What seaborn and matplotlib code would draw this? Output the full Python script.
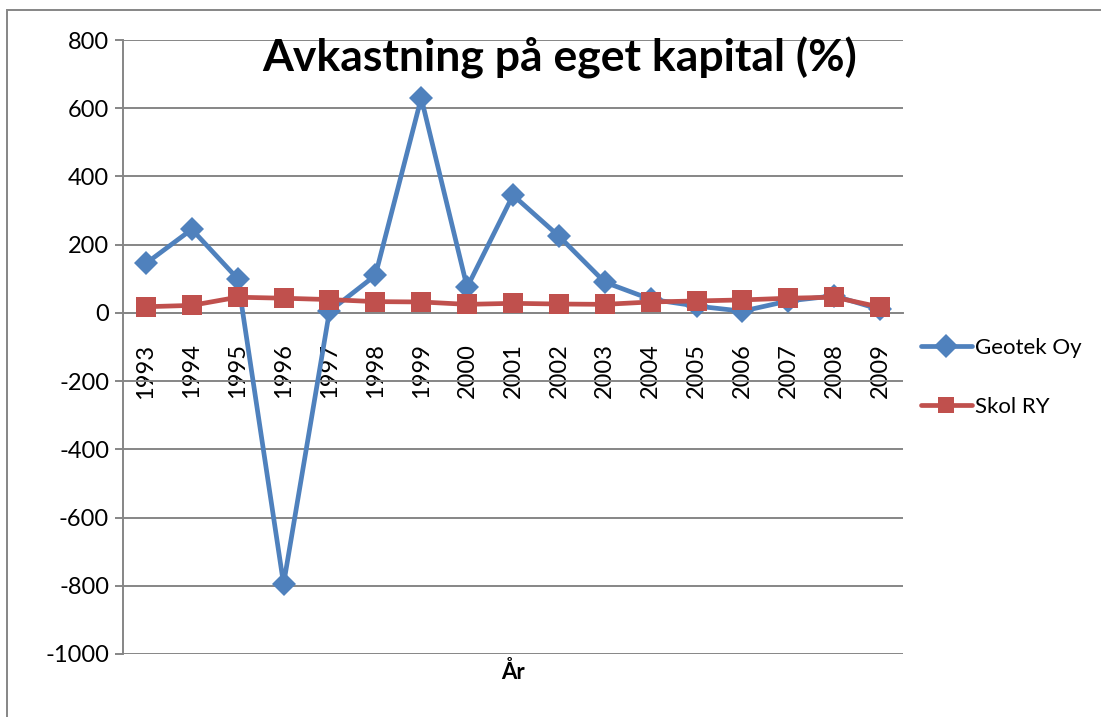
import pandas as pd
import matplotlib.pyplot as plt
import seaborn as sns
from matplotlib.patches import Rectangle

# Data
years = [str(y) for y in range(1993, 2010)]
geotek = [145, 245, 100, -795, 5, 110, 630, 75, 345, 225, 90, 40, 20, 5, 35, 50, 10]
skol = [18, 22, 46, 43, 39, 33, 32, 25, 28, 26, 25, 32, 35, 38, 43, 46, 17]
series_names = ["Geotek Oy", "Skol RY"]

df = pd.DataFrame({
    "År": years * 2,
    "value": geotek + skol,
    "series": [series_names[0]] * len(years) + [series_names[1]] * len(years),
})

sns.set_style("white")
plt.rcParams["font.family"] = ["Lato", "DejaVu Sans"]
plt.rcParams["axes.unicode_minus"] = False
plt.rcParams["text.color"] = "black"
plt.rcParams["axes.labelcolor"] = "black"

fig = plt.figure(figsize=(11.01, 7.17), dpi=100)
ax = fig.add_axes([0.1117, 0.0879, 0.7085, 0.8563])

grid_col = "#868686"

ax = sns.lineplot(data=df, x="År", y="value", hue="series", style="series",
                  markers=["D", "s"], dashes=False,
                  palette=["#4F81BD", "#C0504D"], linewidth=3.4,
                  markersize=12, markeredgewidth=0, ax=ax)
# squares a bit bigger than the diamonds
ax.lines[1].set_markersize(14)

ax.set_ylim(-1000, 800)
ax.set_xlim(-0.5, len(years) - 0.5)
ax.set_yticks(range(-1000, 801, 200))
ax.yaxis.grid(True, color=grid_col, linewidth=1.4)
ax.set_axisbelow(True)

# x axis crossing at zero
for s in ["top", "right"]:
    ax.spines[s].set_visible(False)
ax.spines["bottom"].set_position(("data", 0))
ax.spines["bottom"].set_color(grid_col)
ax.spines["bottom"].set_linewidth(1.4)
ax.spines["left"].set_color(grid_col)
ax.spines["left"].set_linewidth(1.4)
ax.spines["bottom"].set_zorder(1)

ax.set_xticks(range(len(years)))
ax.set_xticklabels(years, rotation=90, fontsize=17)
ax.set_xticks([i - 0.5 for i in range(len(years) + 1)], minor=True)
ax.tick_params(axis="x", which="major", length=0, pad=22, labelcolor="black")
ax.tick_params(axis="x", which="minor", length=6, color=grid_col, width=1.4,
               direction="out")
ax.tick_params(axis="y", length=6, color=grid_col, width=1.4, labelsize=17,
               left=True, pad=4, labelcolor="black")

ax.set_xlabel("År", fontsize=16, fontweight="bold")
ax.xaxis.set_label_coords(0.5, -0.012)
ax.set_ylabel("")

ax.text(0.56, 1.005, "Avkastning på eget kapital (%)", transform=ax.transAxes,
        ha="center", va="top", fontsize=32, fontweight="bold", color="black")

leg = ax.legend(loc="center left", bbox_to_anchor=(0.997, 0.45), frameon=False,
                fontsize=16, handlelength=2.3, labelspacing=1.75,
                handletextpad=0.15, title=None, labelcolor="black")
for h in leg.legend_handles:
    h.set_linewidth(3.4)

fig.add_artist(Rectangle((0.0064, -0.01), 1.0, 0.996, transform=fig.transFigure,
                         fill=False, edgecolor=grid_col, linewidth=1.4))

fig.savefig("out.png", dpi=100)
